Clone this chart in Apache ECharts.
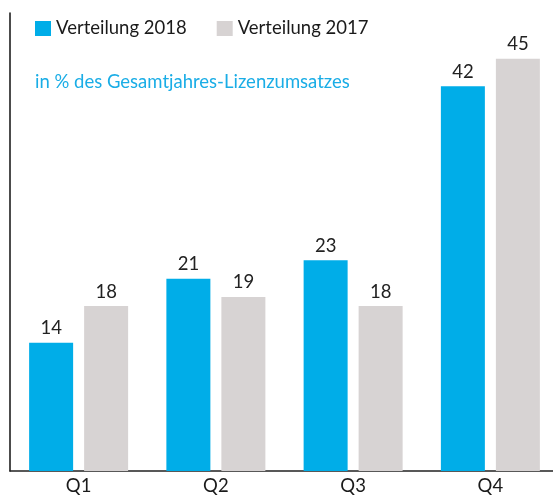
<!DOCTYPE html>
<html><head><meta charset="utf-8">
<script src="https://cdn.jsdelivr.net/npm/echarts@6/dist/echarts.min.js"></script>
<style>html,body{margin:0;padding:0;background:#fff;overflow:hidden}#c{width:560px;height:496px}</style>
</head><body><div id="c"></div>
<script>
const categories = ['Q1', 'Q2', 'Q3', 'Q4'];
const values2018 = [14, 21, 23, 42];
const values2017 = [18, 19, 18, 45];
const seriesNames = ['Verteilung 2018', 'Verteilung 2017'];
const subtitle = 'in % des Gesamtjahres-Lizenzumsatzes';

const FONT = 'Lato';
const FS = 18.5;
const chart = echarts.init(document.getElementById('c'), null, {renderer: 'canvas'});
chart.setOption({
  animation: false,
  textStyle: {fontFamily: FONT},
  title: {
    text: subtitle, left: 35, top: 73, padding: 0,
    textStyle: {color: '#1AADE6', fontSize: FS, fontWeight: 'normal', fontFamily: FONT}
  },
  legend: {
    data: seriesNames, left: 35, top: 19, padding: 0, itemWidth: 16, itemHeight: 15, itemGap: 30,
    icon: 'rect',
    textStyle: {color: '#1a1a1a', fontSize: FS, fontFamily: FONT}
  },
  grid: {left: 10, right: 1, top: 13, bottom: 22, containLabel: false},
  xAxis: {
    type: 'category', data: categories,
    axisLine: {show: true, lineStyle: {color: '#222', width: 1.5}},
    axisTick: {show: false},
    axisLabel: {color: '#1a1a1a', fontSize: FS, margin: 6, fontFamily: FONT}
  },
  yAxis: {
    type: 'value', min: 0, max: 50,
    axisLine: {show: true, lineStyle: {color: '#111', width: 1.5}},
    axisTick: {show: false}, axisLabel: {show: false}, splitLine: {show: false}
  },
  series: [
    {name: seriesNames[0], type: 'bar', data: values2018, barWidth: 44, barGap: '25%',
     itemStyle: {color: '#00ADE8'},
     label: {show: true, position: 'top', distance: 5, color: '#222', fontSize: FS, fontFamily: FONT}},
    {name: seriesNames[1], type: 'bar', data: values2017, barWidth: 44,
     itemStyle: {color: '#D7D3D3'},
     label: {show: true, position: 'top', distance: 5, color: '#222', fontSize: FS, fontFamily: FONT}}
  ]
});
</script></body></html>
